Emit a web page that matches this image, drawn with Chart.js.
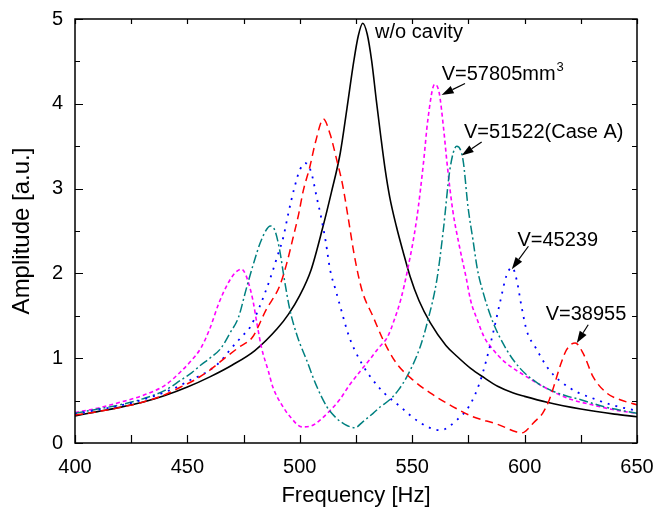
<!DOCTYPE html>
<html><head><meta charset="utf-8">
<script src="https://cdn.jsdelivr.net/npm/chart.js@4"></script>
<style>html,body{margin:0;padding:0;background:#fff}#wrap{width:655px;height:514px}</style>
</head><body><div id="wrap"><canvas id="c" width="655" height="514"></canvas></div>
<script>
// ---- data ----
const blackHz  = [400,410,420,430,440,450,460,470,480,490,495,500,505,510,514,518,521,524,526,528,530,532,534,536,538,540,543,546,549,553,558,565,570,576,582,588,595,600,610,625,640,650];
const blackAmp = [0.32,0.37,0.42,0.48,0.56,0.66,0.78,0.92,1.09,1.35,1.52,1.74,2.04,2.52,2.95,3.42,3.95,4.50,4.80,4.95,4.82,4.50,4.05,3.62,3.22,2.90,2.55,2.25,1.97,1.68,1.42,1.15,1.02,0.88,0.77,0.67,0.59,0.55,0.48,0.40,0.34,0.31];

const magHz  = [400,410,420,430,440,447,452,456,460,464,468,471,474,476,479,481,483,486,488,492,496,501,505,509,513,518,522,527,531,535,539,542,545,548,552,555,557,560,562,564,565.5,568,571,574,576,579,582,586,591,601,610,620,630,640,650];
const magAmp = [0.36,0.41,0.48,0.56,0.68,0.84,0.98,1.12,1.35,1.65,1.88,2.00,2.05,1.98,1.70,1.40,1.12,0.85,0.66,0.45,0.30,0.19,0.20,0.27,0.37,0.52,0.68,0.85,0.98,1.12,1.25,1.45,1.70,2.05,2.64,3.30,3.82,4.23,4.13,3.70,3.30,2.75,2.32,1.95,1.68,1.45,1.25,1.10,0.96,0.78,0.64,0.52,0.45,0.39,0.35];

const tealHz  = [400,410,420,430,440,447,452,456,460,465,469,472.7,476,479,483,487,489,491,493,495.6,499,503,507,512,516,520,524.5,528,532.6,536,540,544,548,553.5,557,561,563.8,566.8,569.8,572.6,574.8,577,579,581.6,586,592,598,605,611,618,625,635,642,650];
const tealAmp = [0.35,0.40,0.45,0.52,0.62,0.74,0.83,0.92,1.00,1.12,1.30,1.48,1.80,2.08,2.40,2.56,2.50,2.28,1.95,1.57,1.25,0.98,0.70,0.43,0.30,0.22,0.18,0.25,0.35,0.43,0.51,0.63,0.80,1.13,1.45,1.93,2.50,3.23,3.50,3.34,2.79,2.40,2.05,1.77,1.42,1.10,0.88,0.72,0.63,0.56,0.51,0.43,0.39,0.35];

const blueHz  = [400,410,420,430,440,447,451,456,460,465,469,474,478,482,486.7,490,492.6,495,497.5,500,502.5,505,507.5,509.5,511.5,513.5,516,518,522,527.5,535.7,544.6,553.5,562.5,569.8,575.7,580,583,586,589,592,594.5,596.5,598.7,601,605,611,620,632,640,650];
const blueAmp = [0.34,0.39,0.44,0.51,0.60,0.68,0.74,0.80,0.86,0.97,1.10,1.25,1.37,1.60,1.93,2.20,2.42,2.72,3.00,3.22,3.30,3.20,2.90,2.66,2.38,2.04,1.80,1.61,1.25,0.94,0.64,0.43,0.24,0.15,0.27,0.45,0.71,0.98,1.30,1.65,1.98,2.07,1.92,1.60,1.32,1.12,0.86,0.65,0.51,0.44,0.38];

const redHz  = [400,410,420,430,440,447,453,460,467.5,473,479,485,491,494,497,499.5,501.5,504.5,507,510.5,513.5,516.5,519,521.5,524,526,528,532.6,537,543,550.5,558,568,577,588,596.5,599,602,604,608,611,613.5,615.7,618.7,622.5,626,630.5,636.5,642.5,650];
const redAmp = [0.33,0.37,0.42,0.48,0.57,0.66,0.74,0.86,1.02,1.13,1.25,1.57,1.85,2.10,2.42,2.70,2.97,3.26,3.55,3.82,3.64,3.33,3.05,2.66,2.25,1.98,1.77,1.49,1.22,0.94,0.74,0.59,0.43,0.31,0.22,0.13,0.12,0.18,0.24,0.35,0.51,0.71,0.90,1.10,1.18,1.06,0.78,0.59,0.51,0.45];

const xTicks = [400,450,500,550,600,650];
const yTicks = [0,1,2,3,4,5];

const noteText = ['w/o cavity','V=57805mm','V=51522(Case A)','V=45239','V=38955'];
const noteSup  = ['','3','','',''];
const noteHz   = [533.5,563.1,573.0,596.8,609.4];
const noteAmp  = [4.78,4.28,3.60,2.32,1.446];
const arrowFromHz  = [573.5,580.9,601.7,628.3];
const arrowFromAmp = [4.24,3.55,2.32,1.395];
const arrowToHz    = [563.1,572.0,594.3,623.2];
const arrowToAmp   = [4.105,3.39,2.05,1.18];

const FONT = "'Liberation Sans', Arial, sans-serif";
const pts = (xs, ys) => xs.map((x, i) => ({x, y: ys[i]}));

const frameTicks = {
  id: 'frameTicks',
  afterDatasetsDraw(chart) {
    const {ctx, chartArea: a, scales: {x, y}} = chart;
    ctx.save();
    ctx.strokeStyle = '#000';
    ctx.lineWidth = 1.2;
    ctx.beginPath();
    for (let v = 400; v <= 650; v += 25) {
      const px = Math.round(x.getPixelForValue(v)) + 0.5;
      ctx.moveTo(px, a.bottom); ctx.lineTo(px, a.bottom - 8);
      ctx.moveTo(px, a.top); ctx.lineTo(px, a.top + 5);
    }
    for (let v = 0; v <= 5; v += 0.5) {
      const py = Math.round(y.getPixelForValue(v)) + 0.5;
      const major = Math.abs(v - Math.round(v)) < 1e-6;
      ctx.moveTo(a.left, py); ctx.lineTo(a.left + (major ? 8 : 5), py);
      ctx.moveTo(a.right, py); ctx.lineTo(a.right - 5, py);
    }
    ctx.stroke();
    ctx.lineWidth = 1.5;
    ctx.strokeRect(a.left, a.top, a.right - a.left, a.bottom - a.top);

    // annotations
    ctx.fillStyle = '#000';
    ctx.textBaseline = 'alphabetic';
    ctx.textAlign = 'left';
    noteText.forEach((t, i) => {
      const px = x.getPixelForValue(noteHz[i]);
      const py = y.getPixelForValue(noteAmp[i]);
      ctx.font = '20px ' + FONT;
      ctx.fillText(t, px, py);
      if (noteSup[i]) {
        const w = ctx.measureText(t).width;
        ctx.font = '13px ' + FONT;
        ctx.fillText(noteSup[i], px + w + 1, py - 9);
      }
    });
    // arrows
    ctx.lineWidth = 1.2;
    arrowFromHz.forEach((h, i) => {
      const x1 = x.getPixelForValue(h), y1 = y.getPixelForValue(arrowFromAmp[i]);
      const x2 = x.getPixelForValue(arrowToHz[i]), y2 = y.getPixelForValue(arrowToAmp[i]);
      const ang = Math.atan2(y2 - y1, x2 - x1);
      const L = 12, W = 4;
      const bx = x2 - L * Math.cos(ang), by = y2 - L * Math.sin(ang);
      ctx.beginPath(); ctx.moveTo(x1, y1); ctx.lineTo(bx, by); ctx.stroke();
      ctx.beginPath();
      ctx.moveTo(x2, y2);
      ctx.lineTo(bx + W * Math.sin(ang), by - W * Math.cos(ang));
      ctx.lineTo(bx - W * Math.sin(ang), by + W * Math.cos(ang));
      ctx.closePath(); ctx.fill();
    });
    ctx.restore();
  }
};

const ds = (label, xs, ys, color, dash, w) => ({
  label, data: pts(xs, ys), borderColor: color, borderWidth: w, borderDash: dash,
  pointRadius: 0, fill: false, cubicInterpolationMode: 'monotone', borderCapStyle: 'butt'
});

new Chart(document.getElementById('c'), {
  type: 'line',
  data: {
    datasets: [
      ds('V=38955', redHz, redAmp, '#ff0000', [8, 5], 1.5),
      ds('V=45239', blueHz, blueAmp, '#0000ff', [2, 6], 1.8),
      ds('V=51522(Case A)', tealHz, tealAmp, '#008080', [9, 3, 2, 3], 1.5),
      ds('V=57805mm3', magHz, magAmp, '#ff00ff', [4, 3], 1.6),
      ds('w/o cavity', blackHz, blackAmp, '#000000', [], 1.6)
    ]
  },
  options: {
    responsive: false, animation: false,
    layout: {padding: {left: 0, right: 18, top: 19, bottom: 0}},
    plugins: {legend: {display: false}, tooltip: {enabled: false}},
    scales: {
      x: {
        type: 'linear', min: 400, max: 650,
        afterBuildTicks: s => { s.ticks = xTicks.map(v => ({value: v})); },
        afterFit: s => { s.height = 71; s.paddingLeft = 0; s.paddingRight = 0; },
        grid: {display: false, drawTicks: false},
        border: {display: false},
        ticks: {color: '#000', font: {family: FONT, size: 20}, padding: 12, maxRotation: 0},
        title: {display: true, text: 'Frequency [Hz]', color: '#000', font: {family: FONT, size: 22}, padding: {top: 0, bottom: 5}}
      },
      y: {
        type: 'linear', min: 0, max: 5,
        afterBuildTicks: s => { s.ticks = yTicks.map(v => ({value: v})); },
        afterFit: s => { s.width = 75; s.paddingTop = 0; s.paddingBottom = 0; },
        grid: {display: false, drawTicks: false},
        border: {display: false},
        ticks: {color: '#000', font: {family: FONT, size: 20}, padding: 12},
        title: {display: true, text: 'Amplitude [a.u.]', color: '#000', font: {family: FONT, size: 24}, padding: {top: 8, bottom: 0}}
      }
    }
  },
  plugins: [frameTicks]
});
</script></body></html>
